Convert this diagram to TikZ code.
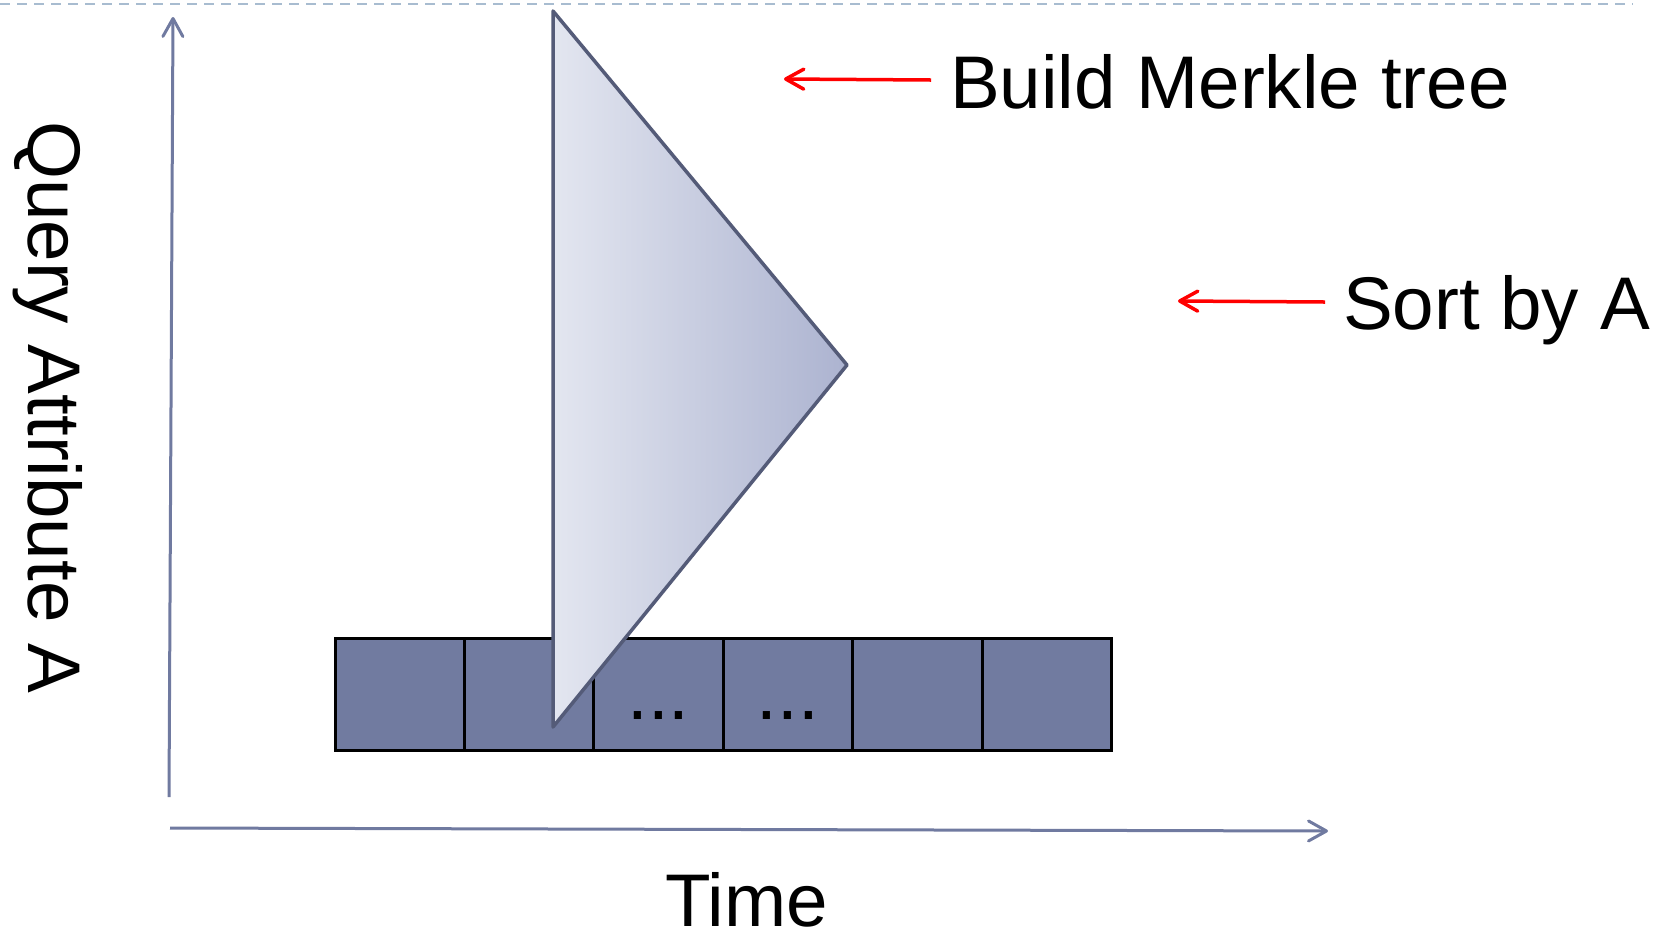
\documentclass[tikz,border=0pt]{standalone}
\usepackage{fontspec}
\setmainfont{Liberation Sans}
\usetikzlibrary{arrows.meta}

\definecolor{axisblue}{RGB}{112,122,160}
\definecolor{cellfill}{RGB}{113,123,160}
\definecolor{treeedge}{RGB}{84,91,120}
\definecolor{treelight}{RGB}{227,230,240}
\definecolor{treedark}{RGB}{172,179,208}
\definecolor{guide}{RGB}{168,188,208}

\tikzset{
  barb/.style={-{Straight Barb[length=9pt,width=10pt,line cap=round,line join=round]}},
  axisline/.style={barb, draw=axisblue, line width=1.5pt},
  notearrow/.style={barb, draw=red, line width=1.75pt},
  cell/.style={draw=black, fill=cellfill, line width=1.5pt, minimum width=64.7pt,
               minimum height=56pt, inner sep=0pt, outer sep=0pt},
  bigtext/.style={font=\fontsize{37.3}{45}\selectfont, inner sep=0pt, outer sep=0pt},
  tree/.style={draw=treeedge, line width=1.75pt, line join=round,
               left color=treelight, right color=treedark},
}

\begin{document}
\begin{tikzpicture}[x=0.5pt,y=-0.5pt]
  \useasboundingbox (0,0) rectangle (1668,933);

  % dashed guide along the top
  \coordinate (g0) at (0,4);
  \coordinate (g1) at (1633,4);
  \draw[guide, line width=1.25pt, dash pattern=on 5pt off 3.5pt] (g0) -- (g1);

  % axes
  \coordinate (vbot) at (169,797);
  \coordinate (vtop) at (173,17);
  \coordinate (hleft) at (170,828);
  \coordinate (hright) at (1328,831);
  \draw[axisline] (vbot) -- (vtop);
  \draw[axisline] (hleft) -- (hright);

  % row of records
  \foreach \i in {1,...,6} {
    \node[cell] (b\i) at ({335+129.4*(\i-0.5)},694) {};
  }
  \path (b3.center) ++(0,25) node[bigtext, anchor=base] (d3) {...};
  \path (b4.center) ++(0,25) node[bigtext, anchor=base] (d4) {...};

  % Merkle tree over the sorted records
  \coordinate (ttop) at (553,11);
  \coordinate (tright) at (847,365);
  \coordinate (tbot) at (553,727);
  \draw[tree] (ttop) -- (tright) -- (tbot) -- cycle;

  % annotations
  \node[bigtext, anchor=base west] (build) at (950,108) {Build Merkle tree};
  \node[bigtext, anchor=base west] (sort) at (1343,329) {Sort by A};
  \coordinate (a1s) at (931,80);
  \coordinate (a1e) at (784,79);
  \coordinate (a2s) at (1325,302);
  \coordinate (a2e) at (1178,301);
  \draw[notearrow] (a1s) -- (a1e);
  \draw[notearrow] (a2s) -- (a2e);

  % axis titles
  \node[bigtext, anchor=base west] (time) at (665,926) {Time};
  \node[bigtext, rotate=-90, anchor=base west] (query) at (28,121) {Query Attribute A};
\end{tikzpicture}
\end{document}
